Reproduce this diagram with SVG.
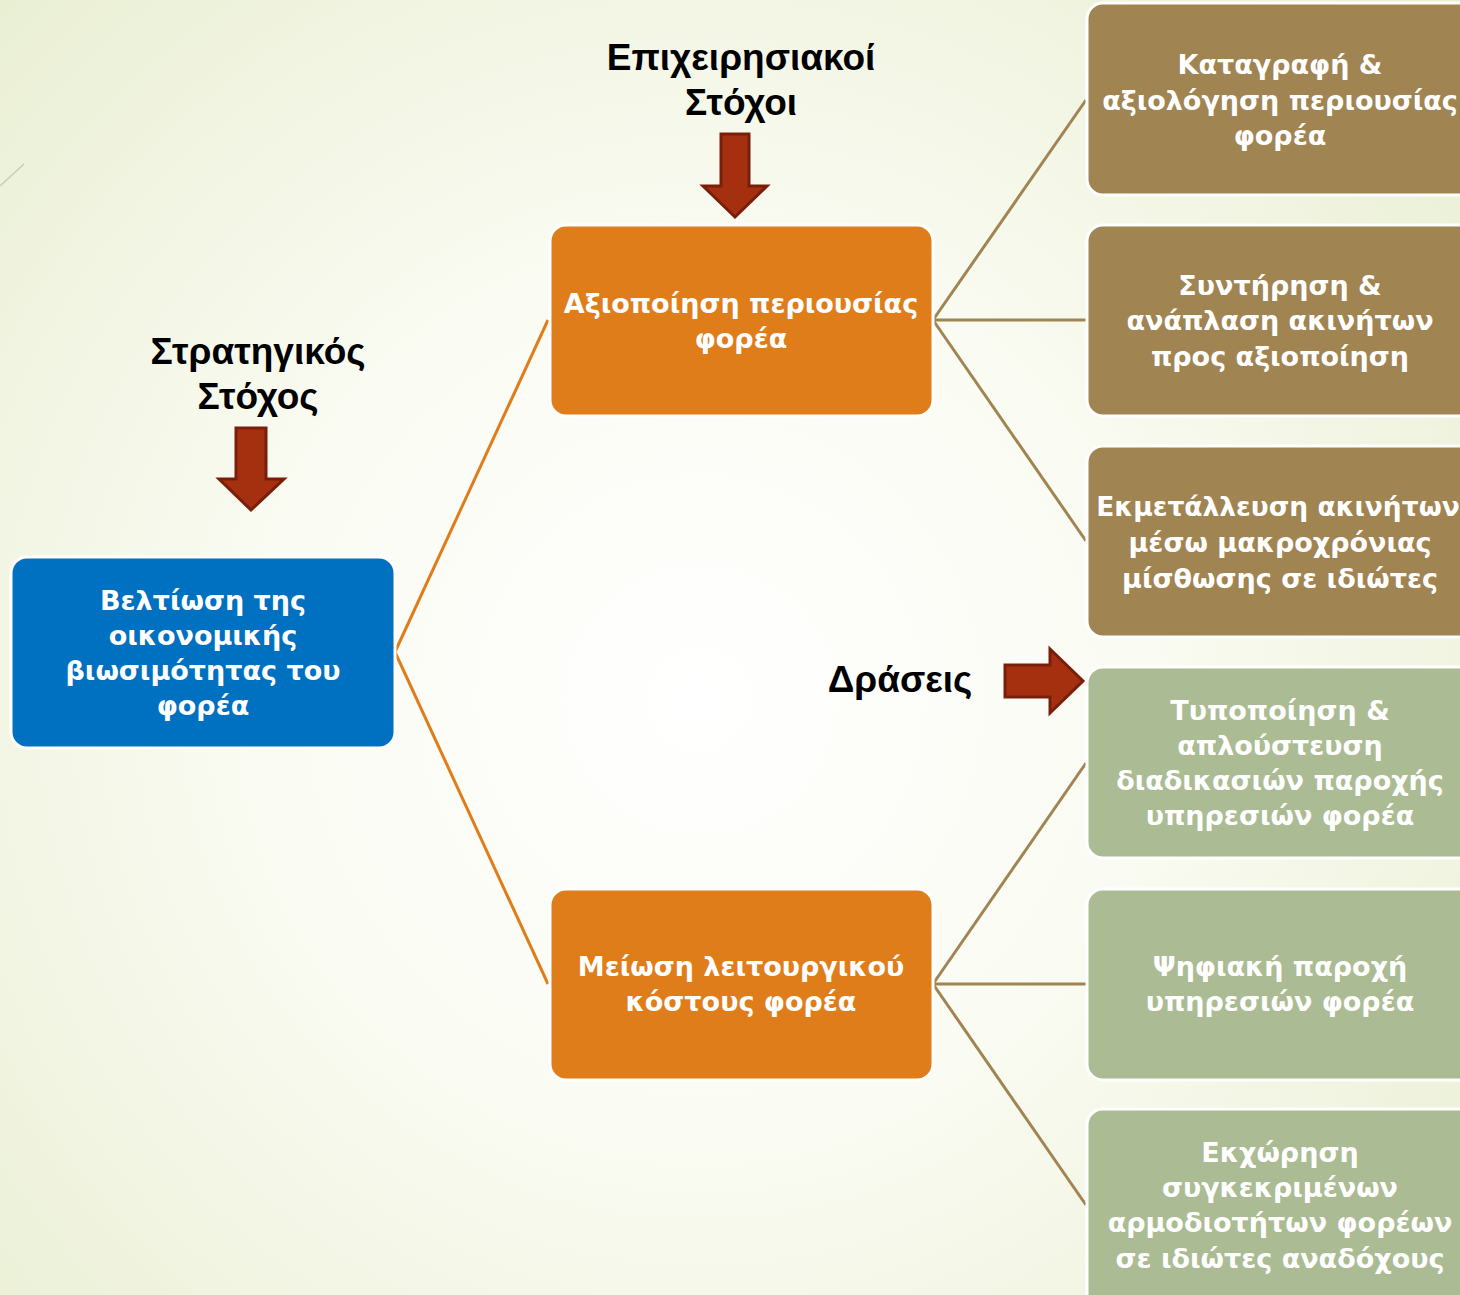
<svg xmlns="http://www.w3.org/2000/svg" width="1460" height="1295" viewBox="0 0 1460 1295">
<defs>
<radialGradient id="bg" cx="700" cy="700" r="1000" gradientUnits="userSpaceOnUse">
<stop offset="0" stop-color="#ffffff"/>
<stop offset="0.45" stop-color="#fafbf2"/>
<stop offset="1" stop-color="#e9efd3"/>
</radialGradient>
<style>
.box{stroke:#ffffff;stroke-width:3}
.blue{fill:#0070c0}
.orange{fill:#df7d1b}
.brown{fill:#a08452}
.green{fill:#abbb93}
.bt{font-family:"DejaVu Sans",sans-serif;font-weight:bold;font-size:27px;fill:#ffffff;text-anchor:middle}
.hd{font-family:"Liberation Sans",Arial,sans-serif;font-weight:bold;font-size:37px;fill:#000000;text-anchor:middle}
.arrow{fill:#a5300f;stroke:#7a1e0c;stroke-width:3;stroke-linejoin:miter}
.co{fill:none;stroke:#df7d1b;stroke-width:3}
.cb{fill:none;stroke:#a08452;stroke-width:3}
</style>
</defs>
<rect x="0" y="0" width="1460" height="1295" fill="url(#bg)"/>
<line x1="0" y1="186" x2="24" y2="164" stroke="#c9ccbe" stroke-width="1.5"/>

<g id="connectors">
<path class="co" d="M395,652 L548,320"/>
<path class="co" d="M395,652 L548,984"/>
<path class="cb" d="M933,320 L1086,100"/>
<path class="cb" d="M933,320 L1086,320"/>
<path class="cb" d="M933,320 L1086,541"/>
<path class="cb" d="M933,984 L1086,763"/>
<path class="cb" d="M933,984 L1086,984"/>
<path class="cb" d="M933,984 L1086,1205"/>
</g>

<g id="label-operational">
<text class="hd" x="741" y="70">Επιχειρησιακοί</text>
<text class="hd" x="741" y="115">Στόχοι</text>
</g>
<g id="label-strategic">
<text class="hd" x="258" y="364">Στρατηγικός</text>
<text class="hd" x="258" y="409">Στόχος</text>
</g>
<g id="label-actions">
<text class="hd" x="900" y="692">Δράσεις</text>
</g>

<g id="arrow-top">
<path class="arrow" d="M721,134 L749,134 L749,186 L767,186 L735,217 L703,186 L721,186 Z"/>
</g>
<g id="arrow-left">
<path class="arrow" d="M236,428 L266,428 L266,479 L284,479 L251,510 L219,479 L236,479 Z"/>
</g>
<g id="arrow-right">
<path class="arrow" d="M1005,665 L1050,665 L1050,649 L1083,681 L1050,713 L1050,697 L1005,697 Z"/>
</g>

<g id="node-goal">
<rect class="box blue" x="11" y="557" width="384" height="191" rx="16"/>
<text class="bt" x="203" y="610">Βελτίωση της</text>
<text class="bt" x="203" y="645">οικονομικής</text>
<text class="bt" x="203" y="680">βιωσιμότητας του</text>
<text class="bt" x="203" y="715">φορέα</text>
</g>

<g id="node-op1">
<rect class="box orange" x="550" y="225" width="383" height="191" rx="16"/>
<text class="bt" x="741" y="313">Αξιοποίηση περιουσίας</text>
<text class="bt" x="741" y="348">φορέα</text>
</g>
<g id="node-op2">
<rect class="box orange" x="550" y="889" width="383" height="191" rx="16"/>
<text class="bt" x="741" y="976">Μείωση λειτουργικού</text>
<text class="bt" x="741" y="1011">κόστους φορέα</text>
</g>

<g id="node-a1">
<rect class="box brown" x="1087" y="3" width="390" height="192" rx="16"/>
<text class="bt" x="1280" y="74">Καταγραφή &amp;</text>
<text class="bt" x="1280" y="110">αξιολόγηση περιουσίας</text>
<text class="bt" x="1280" y="145">φορέα</text>
</g>
<g id="node-a2">
<rect class="box brown" x="1087" y="225" width="390" height="191" rx="16"/>
<text class="bt" x="1280" y="295">Συντήρηση &amp;</text>
<text class="bt" x="1280" y="330">ανάπλαση ακινήτων</text>
<text class="bt" x="1280" y="366">προς αξιοποίηση</text>
</g>
<g id="node-a3">
<rect class="box brown" x="1087" y="446" width="390" height="191" rx="16"/>
<text class="bt" x="1278" y="516" style="font-size:26.5px">Εκμετάλλευση ακινήτων</text>
<text class="bt" x="1280" y="552">μέσω μακροχρόνιας</text>
<text class="bt" x="1280" y="588">μίσθωσης σε ιδιώτες</text>
</g>
<g id="node-a4">
<rect class="box green" x="1087" y="667" width="390" height="191" rx="16"/>
<text class="bt" x="1280" y="720">Τυποποίηση &amp;</text>
<text class="bt" x="1280" y="755">απλούστευση</text>
<text class="bt" x="1280" y="790">διαδικασιών παροχής</text>
<text class="bt" x="1280" y="825">υπηρεσιών φορέα</text>
</g>
<g id="node-a5">
<rect class="box green" x="1087" y="889" width="390" height="191" rx="16"/>
<text class="bt" x="1280" y="976">Ψηφιακή παροχή</text>
<text class="bt" x="1280" y="1011">υπηρεσιών φορέα</text>
</g>
<g id="node-a6">
<rect class="box green" x="1087" y="1109" width="390" height="200" rx="16"/>
<text class="bt" x="1280" y="1162">Εκχώρηση</text>
<text class="bt" x="1280" y="1197">συγκεκριμένων</text>
<text class="bt" x="1280" y="1232">αρμοδιοτήτων φορέων</text>
<text class="bt" x="1280" y="1268">σε ιδιώτες αναδόχους</text>
</g>
</svg>
